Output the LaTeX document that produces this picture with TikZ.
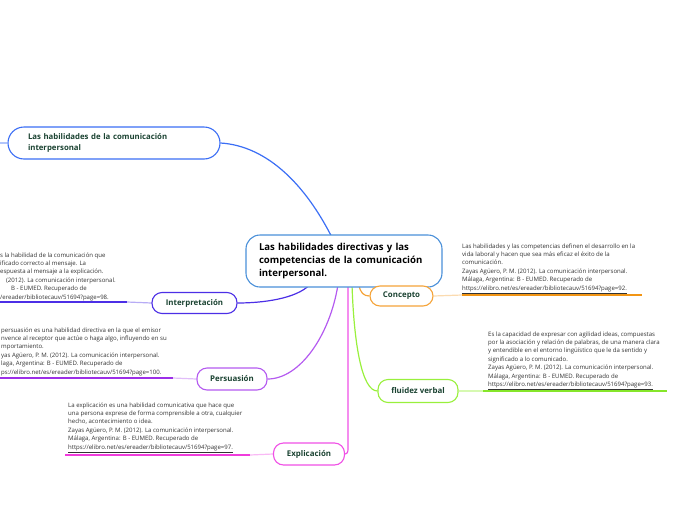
\documentclass[tikz,border=0pt]{standalone}
\usepackage{fontspec}
\setmainfont{Open Sans}
\usetikzlibrary{backgrounds}
\definecolor{cblue}{HTML}{4A90D9}
\definecolor{tblue}{HTML}{3B6EF5}
\definecolor{interp}{HTML}{4C2FE6}
\definecolor{persu}{HTML}{B45AF0}
\definecolor{persud}{HTML}{9C2FE8}
\definecolor{expl}{HTML}{F050E6}
\definecolor{expld}{HTML}{F03CDC}
\definecolor{conc}{HTML}{F5A43A}
\definecolor{concd}{HTML}{F29514}
\definecolor{flu}{HTML}{99F03C}
\definecolor{flud}{HTML}{86E62A}
\definecolor{ntext}{HTML}{1B4332}
\definecolor{dtext}{HTML}{333333}
\begin{document}
\begin{tikzpicture}[x=1pt,y=-1pt,
  subbox/.style={draw=#1,line width=1.1pt,rounded corners=10pt,fill=white,inner sep=0pt,
    font=\fontsize{7.9}{9}\selectfont\bfseries,text=ntext},
  desc/.style={inner sep=0pt,align=left,anchor=north west,text=dtext,
    font=\fontsize{6.05}{8.4}\selectfont},
  conn/.style={draw=#1,line width=1.2pt},
  uline/.style={draw=#1,line width=2pt},
  lline/.style={draw=#1!40,line width=1.2pt}]
\useasboundingbox (0,0) rectangle (697,520);

% central node
\node[draw=cblue,line width=1.1pt,rounded corners=14pt,fill=white,minimum width=196pt,minimum height=52pt,
  text width=170pt,inner sep=0pt,align=left,font=\fontsize{9.6}{12.8}\selectfont\bfseries]
  (c) at (344,261) {Las habilidades directivas y las\\competencias de la comunicación\\interpersonal.};

% top-left node
\node[draw=tblue,line width=1.1pt,rounded corners=16pt,fill=white,minimum width=212pt,minimum height=32pt,
  text width=172pt,inner sep=0pt,align=left,font=\fontsize{7.8}{11.5}\selectfont\bfseries,text=ntext]
  (t) at (114,143) {Las habilidades de la comunicación\\interpersonal};

% sub nodes
\node[subbox=interp,minimum width=85pt,minimum height=21pt] (ip) at (194.5,303) {Interpretación};
\node[subbox=persu,minimum width=70pt,minimum height=22pt] (ps) at (232,379) {Persuasión};
\node[subbox=expl,minimum width=71pt,minimum height=22pt] (ex) at (309,454) {Explicación};
\node[subbox=conc,minimum width=63pt,minimum height=20pt] (co) at (401.5,296) {Concepto};
\node[subbox=flu,minimum width=80pt,minimum height=23pt] (fv) at (418,391) {fluidez verbal};

% description texts
\node[desc] (cot) at (462,243.2) {Las habilidades y las competencias definen el desarrollo en la\\
vida laboral y hacen que sea más eficaz el éxito de la\\
comunicación.\\
Zayas Agüero, P. M. (2012). La comunicación interpersonal.\\
Málaga, Argentina: B - EUMED. Recuperado de\\
\underline{https://elibro.net/es/ereader/bibliotecauv/51694?page=92.}};

\node[desc] (fvt) at (488,331.2) {Es la capacidad de expresar con agilidad ideas, compuestas\\
por la asociación y relación de palabras, de una manera clara\\
y entendible en el entorno lingüístico que le da sentido y\\
significado a lo comunicado.\\
Zayas Agüero, P. M. (2012). La comunicación interpersonal.\\
Málaga, Argentina: B - EUMED. Recuperado de\\
\underline{https://elibro.net/es/ereader/bibliotecauv/51694?page=93.}};

\node[desc] (ext) at (68,402.2) {La explicación es una habilidad comunicativa que hace que\\
una persona exprese de forma comprensible a otra, cualquier\\
hecho, acontecimiento o idea.\\
Zayas Agüero, P. M. (2012). La comunicación interpersonal.\\
Málaga, Argentina: B - EUMED. Recuperado de\\
\underline{https://elibro.net/es/ereader/bibliotecauv/51694?page=97.}};

\node[desc] (pst) at (1,327.2) {persuasión es una habilidad directiva en la que el emisor\\
nvence al receptor que actúe o haga algo, influyendo en su\\
mportamiento.\\
yas Agüero, P. M. (2012). La comunicación interpersonal.\\
laga, Argentina: B - EUMED. Recuperado de\\
\underline{ps://elibro.net/es/ereader/bibliotecauv/51694?page=100.}};

\node[desc] (ipt) at (0,252.2) {s la habilidad de la comunicación que\\
ificado correcto al mensaje. La\\
espuesta al mensaje a la explicación.\\
\hspace*{6pt}(2012). La comunicación interpersonal.\\
\hspace*{11pt}B - EUMED. Recuperado de\\
\underline{/ereader/bibliotecauv/51694?page=98.}};

% underline coordinates
\coordinate (cu1) at (462,295);  \coordinate (cu2) at (642,295);
\coordinate (fu1) at (483,391);  \coordinate (fu2) at (667,391);
\coordinate (eu1) at (250,455);  \coordinate (eu2) at (65,455);
\coordinate (pu1) at (173,378);  \coordinate (pu2) at (0,378);
\coordinate (iu1) at (127,302);  \coordinate (iu2) at (0,302);
\coordinate (tl) at (0,143);

\begin{scope}[on background layer]
  % connectors from central node
  \draw[conn=tblue] (t.east) .. controls (268,146) and (306,186) .. ([xshift=-12pt,yshift=-3pt]c.north);
  \draw[lline=tblue] (tl) -- (t.west);
  \draw[conn=interp] ([xshift=-34pt,yshift=3pt]c.south) .. controls (296,299) and (262,303) .. (ip.east);
  \draw[conn=persu] ([xshift=-6pt,yshift=3pt]c.south) .. controls (330,335) and (300,379) .. (ps.east);
  \draw[conn=expl] ([xshift=4pt,yshift=3pt]c.south) -- ([xshift=3pt,yshift=8pt]ex.east) to[out=-90,in=0] (ex.east);
  \draw[conn=flu] ([xshift=8pt,yshift=3pt]c.south) .. controls (354,345) and (362,391) .. (fv.west);
  \draw[conn=conc] ([xshift=15pt,yshift=3pt]c.south) .. controls (360,293) and (364,296) .. (co.west);
  % underline links
  \draw[lline=conc] (co.east) -- (cu1);
  \draw[lline=flu] (fv.east) -- (fu1);
  \draw[lline=expl] (ex.west) -- (eu1);
  \draw[lline=persu] (ps.west) -- (pu1);
  \draw[lline=interp] (ip.west) -- (iu1);
\end{scope}
\draw[uline=concd] (cu1) -- (cu2);
\draw[uline=flud] (fu1) -- (fu2);
\draw[uline=expld] (eu1) -- (eu2);
\draw[uline=persud] (pu1) -- (pu2);
\draw[uline=interp] (iu1) -- (iu2);
\end{tikzpicture}
\end{document}
